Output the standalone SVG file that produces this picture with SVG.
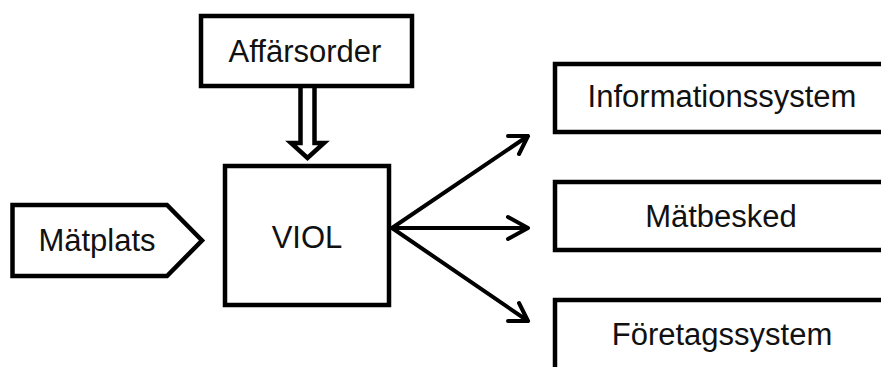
<svg xmlns="http://www.w3.org/2000/svg" width="881" height="367" viewBox="0 0 881 367">
<style>
.box{fill:#fff;stroke:#000;stroke-width:4.5;stroke-linejoin:miter}
.lbl{font-family:"Liberation Sans",Arial,sans-serif;font-size:31px;fill:#111;text-anchor:middle}
.conn{fill:none;stroke:#000;stroke-width:4;stroke-linecap:round;stroke-linejoin:round}
</style>
<rect width="881" height="367" fill="#fff"/>
<g id="connectors">
<path class="conn" d="M392,228 L528,136 M508,136 L528,136 L519,154"/>
<path class="conn" d="M392,228 L528,228 M508,217 L528,228 L508,239"/>
<path class="conn" d="M392,228 L528,321 M519,303 L528,321 L508,321"/>
<path d="M300.5,86 V143 H291 L307.5,158 L324,143 H314.5 V86" fill="#fff" stroke="#000" stroke-width="4.5" stroke-linejoin="miter"/>
</g>
<g id="affarsorder">
<rect class="box" x="201" y="16" width="211" height="70"/>
<text class="lbl" x="305" y="62">Affärsorder</text>
</g>
<g id="viol">
<rect class="box" x="225" y="166" width="164" height="139"/>
<text class="lbl" x="307" y="248">VIOL</text>
</g>
<g id="matplats">
<path class="box" d="M12.5,205 H167 L202,240.5 L167,276 H12.5 Z"/>
<text class="lbl" x="97" y="251">Mätplats</text>
</g>
<g id="informationssystem">
<rect class="box" x="555" y="64" width="340" height="68"/>
<text class="lbl" x="722" y="107">Informationssystem</text>
</g>
<g id="matbesked">
<rect class="box" x="555" y="182" width="340" height="68"/>
<text class="lbl" x="721" y="227">Mätbesked</text>
</g>
<g id="foretagssystem">
<rect class="box" x="555" y="300" width="340" height="80"/>
<text class="lbl" x="722" y="345">Företagssystem</text>
</g>
</svg>
